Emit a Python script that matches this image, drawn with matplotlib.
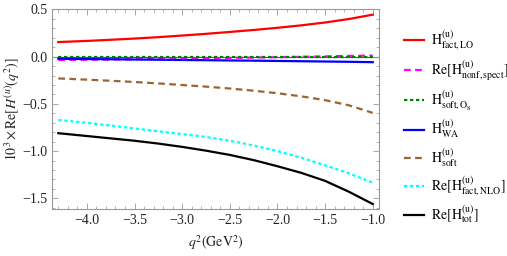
import matplotlib
matplotlib.use("Agg")
import matplotlib.pyplot as plt
from matplotlib.ticker import MultipleLocator

plt.rcParams["font.family"] = ["Liberation Serif", "DejaVu Serif"]
plt.rcParams["mathtext.fontset"] = "stix"

# valores
q2 = [-4.3, -4.0, -3.75, -3.5, -3.25, -3.0, -2.75, -2.5, -2.25, -2.0, -1.75, -1.5, -1.25, -1.0]
h_fact_lo = [0.155, 0.167, 0.179, 0.192, 0.207, 0.224, 0.242, 0.262, 0.283, 0.306, 0.332, 0.362, 0.399, 0.445]
h_nonf_spect = [-0.035, -0.032, -0.030, -0.027, -0.024, -0.020, -0.017, -0.013, -0.009, -0.005, -0.001, 0.003, 0.008, 0.012]
h_soft_o8 = [-0.005] * 14
h_wa = [-0.022, -0.025, -0.027, -0.030, -0.032, -0.035, -0.037, -0.040, -0.042, -0.045, -0.048, -0.051, -0.054, -0.058]
h_soft = [-0.230, -0.243, -0.255, -0.268, -0.283, -0.300, -0.317, -0.337, -0.360, -0.387, -0.420, -0.460, -0.515, -0.595]
h_fact_nlo = [-0.670, -0.700, -0.730, -0.760, -0.790, -0.820, -0.850, -0.890, -0.940, -1.000, -1.070, -1.150, -1.235, -1.335]
h_tot = [-0.810, -0.840, -0.865, -0.890, -0.920, -0.955, -0.995, -1.040, -1.095, -1.160, -1.230, -1.315, -1.430, -1.560]

labels = [
    r"$\mathrm{H}^{(\mathrm{u})}_{\mathrm{fact,LO}}$",
    r"$\mathrm{Re}[\mathrm{H}^{(\mathrm{u})}_{\mathrm{nonf,spect}}]$",
    r"$\mathrm{H}^{(\mathrm{u})}_{\mathrm{soft,O_8}}$",
    r"$\mathrm{H}^{(\mathrm{u})}_{\mathrm{WA}}$",
    r"$\mathrm{H}^{(\mathrm{u})}_{\mathrm{soft}}$",
    r"$\mathrm{Re}[\mathrm{H}^{(\mathrm{u})}_{\mathrm{fact,NLO}}]$",
    r"$\mathrm{Re}[\mathrm{H}^{(\mathrm{u})}_{\mathrm{tot}}]$",
]

fig = plt.figure(figsize=(5.07, 2.56), dpi=100)
ax = fig.add_axes([0.1026, 0.182, 0.645, 0.781])

ax.axhline(0, color="#555555", lw=0.8, zorder=1)

ax.plot(q2, h_fact_lo, color="#FF0000", lw=1.6, label=labels[0])
ax.plot(q2, h_nonf_spect, color="#FF00FF", lw=1.6, ls=(0, (3, 2)), label=labels[1])
ax.plot(q2, h_soft_o8, color="#008000", lw=1.6, ls=(0, (1.5, 1.2)), label=labels[2])
ax.plot(q2, h_wa, color="#0000FF", lw=1.6, label=labels[3])
ax.plot(q2, h_soft, color="#996633", lw=1.6, ls=(0, (3, 2)), label=labels[4])
ax.plot(q2, h_fact_nlo, color="#00FFFF", lw=1.6, ls=(0, (1.5, 1.2)), label=labels[5])
ax.plot(q2, h_tot, color="#000000", lw=1.6, label=labels[6])

ax.set_xlim(-4.366, -0.934)
ax.set_ylim(-1.617, 0.5)

ax.xaxis.set_major_locator(MultipleLocator(0.5))
ax.xaxis.set_minor_locator(MultipleLocator(0.1))
ax.yaxis.set_major_locator(MultipleLocator(0.5))
ax.yaxis.set_minor_locator(MultipleLocator(0.1))
ax.xaxis.set_major_formatter(lambda v, p: f"{v:.1f}".replace("-", "\u2212"))
ax.yaxis.set_major_formatter(lambda v, p: f"{v:.1f}".replace("-", "\u2212"))

for s in ax.spines.values():
    s.set_color("#999999")
    s.set_linewidth(0.8)
ax.tick_params(which="both", direction="in", top=True, right=True,
               color="#999999", labelsize=10, labelcolor="#222222")
ax.tick_params(which="major", length=4, width=0.6)
ax.tick_params(which="minor", length=2, width=0.5)

ax.set_ylabel(r"$10^3\times\mathrm{Re}[H^{(u)}(q^2)]$", fontsize=10, color="#222222", labelpad=0)
ax.set_xlabel(r"$q^2(\mathrm{GeV}^2)$", fontsize=10, color="#222222", labelpad=4)

ax.legend(loc="upper left", bbox_to_anchor=(1.06, 0.93), frameon=False,
          fontsize=10, handlelength=1.45, handletextpad=0.45, labelspacing=0.42,
          borderaxespad=0)

fig.savefig("out.png", dpi=100)
